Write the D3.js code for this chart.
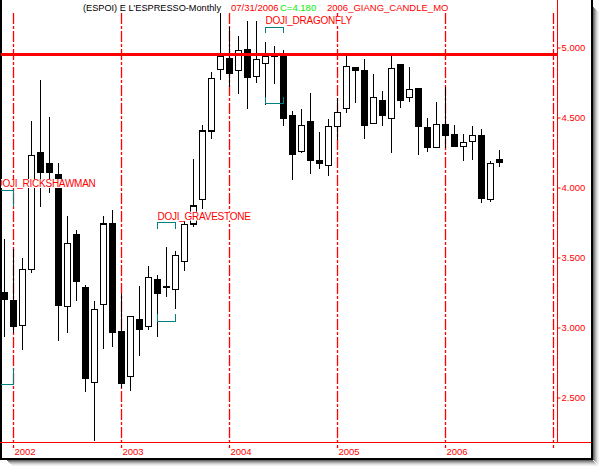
<!DOCTYPE html>
<html>
<head>
<meta charset="utf-8">
<script src="https://cdn.jsdelivr.net/npm/d3@7"></script>
<style>
  body { margin: 0; background: #fff; }
  svg { display: block; }
  text { font-family: "Liberation Sans", Arial, sans-serif; }
</style>
</head>
<body>
<div id="chart"></div>
<script>
// monthly candles, Dec 2001 .. Jul 2006
const months = [
  "2001-12",
  "2002-01","2002-02","2002-03","2002-04","2002-05","2002-06","2002-07","2002-08","2002-09","2002-10","2002-11","2002-12",
  "2003-01","2003-02","2003-03","2003-04","2003-05","2003-06","2003-07","2003-08","2003-09","2003-10","2003-11","2003-12",
  "2004-01","2004-02","2004-03","2004-04","2004-05","2004-06","2004-07","2004-08","2004-09","2004-10","2004-11","2004-12",
  "2005-01","2005-02","2005-03","2005-04","2005-05","2005-06","2005-07","2005-08","2005-09","2005-10","2005-11","2005-12",
  "2006-01","2006-02","2006-03","2006-04","2006-05","2006-06","2006-07"
];
const open = [
  3.246,
  3.189, 3.016, 3.416, 4.251, 4.168, 4.089, 3.151, 3.661, 3.287, 2.609, 3.166, 3.739,
  2.968, 2.651, 3.054, 3.007, 3.344, 3.295, 3.273, 3.473, 3.739, 3.916, 4.404, 4.844,
  4.918, 4.837, 4.987, 4.794, 4.887, 4.950, 4.946, 4.511, 4.259, 4.468, 4.194, 4.159,
  4.437, 4.566, 4.859, 4.837, 4.459, 4.623, 4.494, 4.875, 4.644, 4.704, 4.425, 4.284,
  4.446, 4.375, 4.291, 4.327, 4.373, 3.916, 4.200
];
const high = [
  3.632,
  3.561, 3.496, 4.475, 4.768, 4.501, 4.173, 3.796, 3.696, 3.304, 3.189, 3.796, 3.839,
  3.239, 3.080, 3.296, 3.439, 3.373, 3.575, 3.544, 3.760, 4.204, 4.446, 4.823, 5.244,
  5.149, 5.082, 5.189, 5.189, 5.037, 5.013, 4.982, 4.546, 4.561, 4.673, 4.394, 4.489,
  4.641, 4.959, 4.862, 4.916, 4.811, 4.689, 4.946, 4.882, 4.861, 4.706, 4.496, 4.611,
  4.720, 4.446, 4.382, 4.437, 4.418, 4.189, 4.268
];
const low = [
  2.932,
  2.961, 2.839, 3.387, 3.863, 3.963, 2.906, 2.963, 3.191, 2.541, 2.190, 2.849, 2.863,
  2.570, 2.549, 2.800, 2.979, 2.929, 3.216, 3.134, 3.406, 3.718, 3.844, 4.344, 4.768,
  4.718, 4.666, 4.559, 4.744, 4.589, 4.737, 4.441, 4.054, 4.244, 4.094, 4.132, 4.084,
  4.339, 4.534, 4.601, 4.344, 4.455, 4.441, 4.244, 4.570, 4.613, 4.232, 4.256, 4.280,
  4.284, 4.290, 4.191, 4.196, 3.891, 3.899, 4.144
];
const close = [
  3.204,
  3.011, 3.416, 4.227, 4.106, 4.111, 3.156, 3.601, 3.327, 2.634, 3.130, 3.739, 2.963,
  2.599, 3.080, 2.986, 3.359, 3.244, 3.283, 3.516, 3.737, 3.868, 4.404, 4.780, 4.939,
  4.813, 4.980, 4.784, 4.916, 4.939, 4.946, 4.494, 4.234, 4.444, 4.191, 4.170, 4.437,
  4.537, 4.866, 4.834, 4.441, 4.644, 4.513, 4.851, 4.623, 4.701, 4.434, 4.284, 4.451,
  4.370, 4.296, 4.323, 4.373, 3.920, 4.173, 4.180
];

// axes
const yearTicks = [2002, 2003, 2004, 2005, 2006, 2007];
const yearLabels = ["2002", "2003", "2004", "2005", "2006", ""];
const priceTicks = [2.5, 3.0, 3.5, 4.0, 4.5, 5.0];
const resistance = 4.95;

// candle pattern markers
const patternMonths = ["2001-12", "2003-06", "2004-06"];
const patternNames = ["DOJI_RICKSHAWMAN", "DOJI_GRAVESTONE", "DOJI_DRAGONFLY"];
const bracketTop = [3.982, 3.749, 5.144];
const bracketTopLeg = [3.863, 3.701, 5.106];
const bracketBottom = [2.596, 3.046, 4.601];
const bracketBottomLeg = [2.713, 3.094, 4.649];

const titleText = "(ESPOI) E L'ESPRESSO-Monthly";
const dateText = "07/31/2006";
const closeText = "C=4.180";
const studyText = "2006_GIANG_CANDLE_MO";

const width = 599, height = 466;
const plotRight = 557, plotBottom = 442;

const monthIndex = m => (+m.slice(0, 4) - 2002) * 12 + (+m.slice(5, 7) - 1);
const data = months.map((m, i) => ({
  idx: monthIndex(m), open: open[i], high: high[i], low: low[i], close: close[i]
}));

const x = d3.scaleLinear().domain([0, 60]).range([13.5, 553.5]);
const y = d3.scaleLinear().domain([2.5, 5]).range([397.5, 47.5]);

const svg = d3.select("#chart")
  .append("svg")
  .attr("width", width)
  .attr("height", height);

// drop shadow of the frame
const shadow = svg.append("g");
[0.6, 0.45, 0.32, 0.2, 0.11, 0.05].forEach((op, k) => {
  shadow.append("rect")
    .attr("x", 593 + k).attr("y", 7 + k)
    .attr("width", 1).attr("height", 453)
    .attr("fill", "#000").attr("opacity", op);
  shadow.append("rect")
    .attr("x", 7 + k).attr("y", 460 + k)
    .attr("width", 586).attr("height", 1)
    .attr("fill", "#000").attr("opacity", op);
});

// frame
svg.append("path")
  .attr("d", "M0.5,0 V458.5 H591.5 V0")
  .attr("fill", "none")
  .attr("stroke", "#000")
  .attr("stroke-width", 2)
  .attr("shape-rendering", "crispEdges");

svg.append("defs").append("clipPath")
  .attr("id", "plot-clip")
  .append("rect")
  .attr("x", 1).attr("y", 0)
  .attr("width", plotRight - 1).attr("height", plotBottom);

// year separators (dash-dot), behind the candles
svg.append("g")
  .attr("class", "year-lines")
  .selectAll("line")
  .data(yearTicks)
  .join("line")
  .attr("x1", d => x((d - 2002) * 12))
  .attr("x2", d => x((d - 2002) * 12))
  .attr("y1", 13)
  .attr("y2", 448)
  .style("stroke", "rgb(255,0,0)")
  .style("stroke-width", "1.3px")
  .style("stroke-dasharray", "11,2,3,2");

const plot = svg.append("g").attr("clip-path", "url(#plot-clip)");

// candles
const candle = plot.append("g")
  .selectAll("g")
  .data(data)
  .join("g");

candle.append("line")
  .attr("x1", d => x(d.idx))
  .attr("x2", d => x(d.idx))
  .attr("y1", d => y(d.high))
  .attr("y2", d => y(d.low))
  .attr("stroke", "#000")
  .attr("stroke-width", 1)
  .attr("shape-rendering", "crispEdges");

candle.append("rect")
  .attr("x", d => x(d.idx) - 3)
  .attr("width", 6)
  .attr("y", d => y(Math.max(d.open, d.close)))
  .attr("height", d => Math.max(1.5, y(Math.min(d.open, d.close)) - y(Math.max(d.open, d.close))))
  .attr("fill", d => d.close < d.open ? "#000" : "#fff")
  .attr("stroke", "#000")
  .attr("stroke-width", 1.2)
  .attr("shape-rendering", "crispEdges");

// resistance line
plot.append("line")
  .attr("x1", 0).attr("x2", plotRight)
  .attr("y1", y(resistance)).attr("y2", y(resistance))
  .attr("stroke", "#ff0000")
  .attr("stroke-width", 3);

// pattern brackets and labels
const patterns = patternMonths.map((m, i) => ({
  idx: monthIndex(m), name: patternNames[i],
  top: bracketTop[i], topLeg: bracketTopLeg[i],
  bottom: bracketBottom[i], bottomLeg: bracketBottomLeg[i]
}));

patterns.forEach(p => {
  const x0 = x(p.idx - 1), x1 = x(p.idx + 1);
  plot.append("path")
    .attr("d", `M${x0},${y(p.topLeg)} V${y(p.top)} H${x1} V${y(p.topLeg)}`)
    .attr("fill", "none")
    .attr("stroke", "#008080")
    .attr("stroke-width", 1)
    .attr("shape-rendering", "crispEdges");
  plot.append("path")
    .attr("d", `M${x0},${y(p.bottomLeg)} V${y(p.bottom)} H${x1} V${y(p.bottomLeg)}`)
    .attr("fill", "none")
    .attr("stroke", "#008080")
    .attr("stroke-width", 1)
    .attr("shape-rendering", "crispEdges");

  const lg = plot.append("g");
  const t = lg.append("text")
    .attr("x", x0)
    .attr("y", y(p.top) - 3)
    .attr("font-size", "10px")
    .attr("letter-spacing", "-0.25px")
    .attr("fill", "#ff0000")
    .text(p.name);
  const bb = t.node().getBBox();
  lg.insert("rect", "text")
    .attr("x", bb.x - 1).attr("y", bb.y + 1)
    .attr("width", bb.width + 2).attr("height", bb.height - 2)
    .attr("fill", "#fff");
});

// right price axis
svg.append("line")
  .attr("x1", plotRight + 0.5).attr("x2", plotRight + 0.5)
  .attr("y1", 0).attr("y2", plotBottom)
  .attr("stroke", "#ff0000").attr("stroke-width", 1);

const yAxis = d3.axisRight(y)
  .tickValues(priceTicks)
  .tickFormat(d3.format(".3f"))
  .tickSize(3)
  .tickPadding(1);

svg.append("g")
  .attr("transform", `translate(${plotRight + 0.5},0)`)
  .call(yAxis)
  .call(g => g.select(".domain").remove())
  .call(g => g.selectAll(".tick line").attr("stroke", "#ff0000"))
  .call(g => g.selectAll(".tick text")
    .attr("fill", "#ff0000")
    .attr("font-size", "9.5px")
    .attr("font-family", "Liberation Sans, Arial, sans-serif"));

// bottom time axis
svg.append("line")
  .attr("x1", 0).attr("x2", 591)
  .attr("y1", plotBottom + 0.5).attr("y2", plotBottom + 0.5)
  .attr("stroke", "#ff0000").attr("stroke-width", 1);

svg.append("g")
  .selectAll("text")
  .data(yearTicks)
  .join("text")
  .attr("x", d => x((d - 2002) * 12) + 1)
  .attr("y", 454.5)
  .attr("font-size", "9.5px")
  .attr("fill", "#ff0000")
  .text((d, i) => yearLabels[i]);

// header
const header = svg.append("g").attr("font-size", "9.5px");
header.append("text").attr("x", 83).attr("y", 11).attr("fill", "#000")
  .attr("textLength", 138).attr("lengthAdjust", "spacingAndGlyphs").text(titleText);
header.append("text").attr("x", 231).attr("y", 11).attr("fill", "#ff0000").text(dateText);
header.append("text").attr("x", 280).attr("y", 11).attr("fill", "#00ee00").text(closeText);
header.append("text").attr("x", 327).attr("y", 11).attr("fill", "#ff0000").text(studyText);
</script>
</body>
</html>
